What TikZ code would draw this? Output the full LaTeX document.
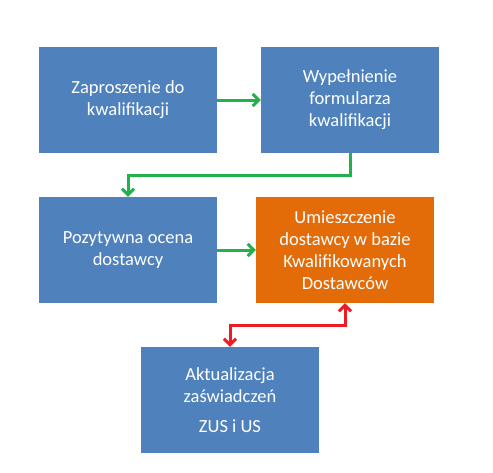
\documentclass[tikz,border=0pt]{standalone}
\usepackage{fontspec}
\setmainfont{Carlito}
\usepackage{xcolor}
\usepackage{tikz}
\usetikzlibrary{arrows.meta, positioning}

\definecolor{boxblue}{HTML}{4F81BD}
\definecolor{boxorange}{HTML}{E36C09}
\definecolor{flowgreen}{HTML}{22B14C}
\definecolor{flowred}{HTML}{ED1C24}

\tikzset{
  stepbox/.style={fill=boxblue, text=white, minimum width=178pt, minimum height=106pt,
    inner sep=0pt, align=center, font=\fontsize{18.5}{22}\selectfont},
  flow/.style={flowgreen, line width=3pt, -{Straight Barb[length=6pt,width=12pt]}},
  back/.style={flowred, line width=3pt, {Straight Barb[length=6pt,width=12pt]}-{Straight Barb[length=6pt,width=12pt]}}
}

\begin{document}
\begin{tikzpicture}[x=1pt, y=-1pt]
    \useasboundingbox (0,0) rectangle (493,472);

    % Boxes
    \node[stepbox] (invite) at (128,100) {Zaproszenie do\\kwalifikacji};
    \node[stepbox] (form) at (350,100) {Wypełnienie\\formularza\\kwalifikacji};
    \node[stepbox] (rating) at (128,250) {Pozytywna ocena\\dostawcy};
    \node[stepbox, fill=boxorange] (base) at (345,250) {Umieszczenie\\dostawcy w bazie\\Kwalifikowanych\\Dostawców};
    \node[stepbox] (update) at (230,400) {Aktualizacja\\zaświadczeń\\[8pt]ZUS i US};

    % Green flow
    \draw[flow] (invite) -- (form);
    \draw[flow] (form.south) -- ++(0,22) -| (rating.north);
    \draw[flow] (rating) -- (base);

    % Red loop
    \draw[back] (update.north) -- ++(0,-21) -| (base.south);
\end{tikzpicture}
\end{document}
